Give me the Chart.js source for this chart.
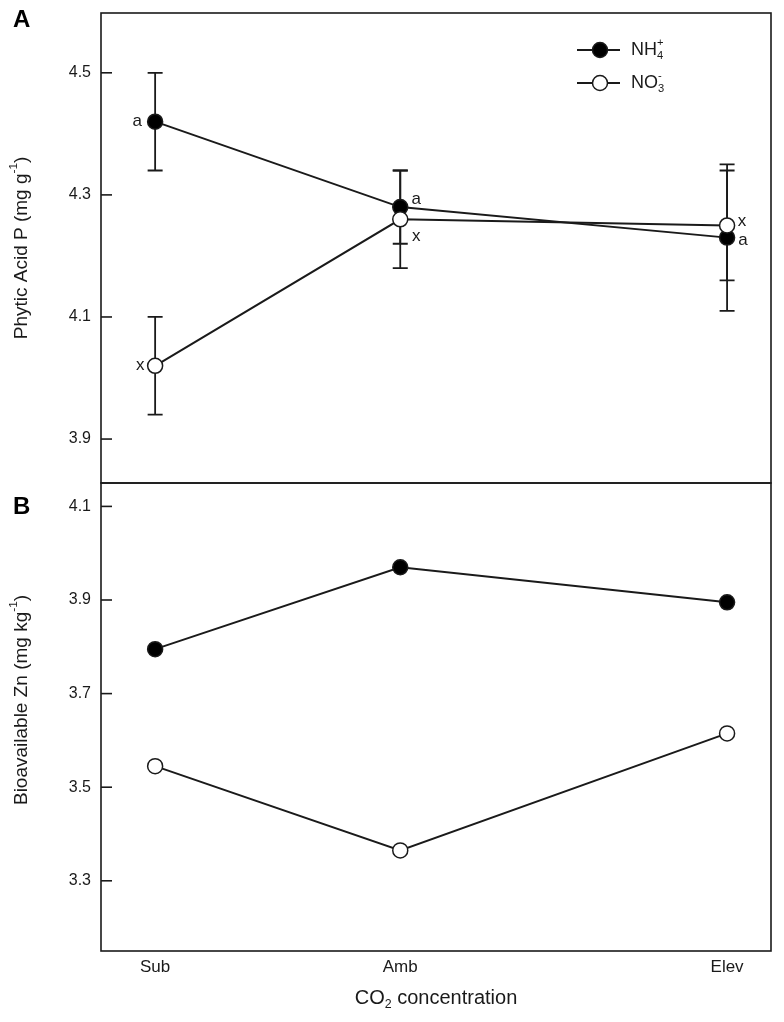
<!DOCTYPE html>
<html>
<head>
<meta charset="utf-8">
<script src="https://cdn.jsdelivr.net/npm/chart.js@4.4.1/dist/chart.umd.min.js"></script>
<style>
  body { margin: 0; background: #fff; }
  #wrap { position: relative; width: 784px; height: 1022px; }
  canvas { position: absolute; left: 0; }
  #chartA { top: 0; }
  #chartB { top: 471px; }
</style>
</head>
<body>
<div id="wrap">
  <canvas id="chartA" width="784" height="495"></canvas>
  <canvas id="chartB" width="784" height="551"></canvas>
</div>
<script>
// data
const categories = ['Sub', 'Amb', 'Elev'];
const co2Levels = [270, 390, 550];   // uneven spacing of the x positions

const phyticNH4 = [4.42, 4.28, 4.23];
const phyticNH4Err = [0.08, 0.06, 0.12];
const phyticNO3 = [4.02, 4.26, 4.25];
const phyticNO3Err = [0.08, 0.08, 0.09];
const phyticNH4Letters = ['a', 'a', 'a'];
const phyticNO3Letters = ['x', 'x', 'x'];

const zincNH4 = [3.795, 3.97, 3.895];
const zincNO3 = [3.545, 3.365, 3.615];

const ticksA = [3.9, 4.1, 4.3, 4.5];
const ticksB = [3.3, 3.5, 3.7, 3.9, 4.1];

const B_TOP = 471;  // page offset of the lower canvas
const INK = '#1a1a1a';
const SANS = '"Liberation Sans", Arial, sans-serif';
const NARROW = '"Liberation Sans Narrow", "Arial Narrow", "Liberation Sans", sans-serif';

function pts(ys) {
  return co2Levels.map((x, i) => ({ x: x, y: ys[i] }));
}

function seriesStyle(filled) {
  return {
    borderColor: INK,
    borderWidth: 2,
    pointRadius: 7.5,
    pointBorderWidth: 1.5,
    pointBorderColor: INK,
    pointBackgroundColor: filled ? '#000' : '#fff',
    tension: 0,
    fill: false
  };
}

// text with sub/superscripts: parts = [{t, sub, sup, stack}]
function richWidth(ctx, parts, size, family) {
  let w = 0, last = 0;
  parts.forEach(p => {
    const s = (p.sub || p.sup) ? size * 0.62 : size;
    ctx.font = s + 'px ' + family;
    const pw = ctx.measureText(p.t).width;
    if (p.stack) { w += Math.max(0, pw - last); last = Math.max(last, pw); }
    else { w += pw; last = pw; }
  });
  return w;
}

function drawRich(ctx, parts, x, y, size, family, align) {
  let cx = align === 'center' ? x - richWidth(ctx, parts, size, family) / 2 : x;
  let prevX = cx;
  ctx.textBaseline = 'middle';
  ctx.textAlign = 'left';
  parts.forEach(p => {
    const small = p.sub || p.sup;
    const s = small ? size * 0.62 : size;
    ctx.font = s + 'px ' + family;
    const dy = p.sub ? size * 0.32 : (p.sup ? -size * 0.42 : 0);
    const px = p.stack ? prevX : cx;
    ctx.fillText(p.t, px, y + dy);
    const w = ctx.measureText(p.t).width;
    if (p.stack) { cx = Math.max(cx, px + w); }
    else { prevX = cx; cx += w; }
  });
}

const framePlugin = {
  id: 'frame',
  afterDraw(chart, args, opts) {
    const ctx = chart.ctx, a = chart.chartArea;
    const y = chart.scales.y;
    ctx.save();
    ctx.strokeStyle = INK;
    ctx.lineWidth = 1.6;
    ctx.strokeRect(a.left, a.top, a.right - a.left, a.bottom - a.top);
    // inward tick marks
    y.ticks.forEach(t => {
      const py = y.getPixelForValue(t.value);
      ctx.beginPath();
      ctx.moveTo(a.left, py);
      ctx.lineTo(a.left + 11, py);
      ctx.stroke();
    });
    // panel letter
    ctx.fillStyle = '#000';
    ctx.font = 'bold 24px ' + SANS;
    ctx.textAlign = 'left';
    ctx.textBaseline = 'middle';
    ctx.fillText(opts.letter, 13, opts.letterY);
    // rotated y title
    ctx.fillStyle = INK;
    ctx.translate(22, opts.titleY);
    ctx.rotate(-Math.PI / 2);
    drawRich(ctx, opts.title, 0, 0, 19, SANS, 'center');
    ctx.restore();
  }
};

const errorBarPlugin = {
  id: 'errorBars',
  beforeDatasetsDraw(chart) {
    const ctx = chart.ctx, xs = chart.scales.x, ys = chart.scales.y;
    const sets = [[phyticNH4, phyticNH4Err], [phyticNO3, phyticNO3Err]];
    ctx.save();
    ctx.strokeStyle = INK;
    ctx.lineWidth = 1.8;
    sets.forEach(([vals, errs]) => {
      vals.forEach((v, i) => {
        const px = xs.getPixelForValue(co2Levels[i]);
        const hi = ys.getPixelForValue(v + errs[i]);
        const lo = ys.getPixelForValue(v - errs[i]);
        ctx.beginPath();
        ctx.moveTo(px, hi); ctx.lineTo(px, lo);
        ctx.moveTo(px - 7.5, hi); ctx.lineTo(px + 7.5, hi);
        ctx.moveTo(px - 7.5, lo); ctx.lineTo(px + 7.5, lo);
        ctx.stroke();
      });
    });
    ctx.restore();
  },
  afterDatasetsDraw(chart) {
    const ctx = chart.ctx, xs = chart.scales.x, ys = chart.scales.y;
    // letter offsets next to each mean (px)
    const offNH4 = [[-18, 0], [16, -8], [16, 3]];
    const offNO3 = [[-15, 0], [16, 17], [15, -4]];
    ctx.save();
    ctx.fillStyle = INK;
    ctx.font = '17px ' + SANS;
    ctx.textAlign = 'center';
    ctx.textBaseline = 'middle';
    phyticNH4.forEach((v, i) => {
      ctx.fillText(phyticNH4Letters[i], xs.getPixelForValue(co2Levels[i]) + offNH4[i][0], ys.getPixelForValue(v) + offNH4[i][1]);
    });
    phyticNO3.forEach((v, i) => {
      ctx.fillText(phyticNO3Letters[i], xs.getPixelForValue(co2Levels[i]) + offNO3[i][0], ys.getPixelForValue(v) + offNO3[i][1]);
    });
    // legend
    const rows = [
      { y: 50, fill: '#000', parts: [{ t: 'NH' }, { t: '4', sub: true }, { t: '+', sup: true, stack: true }] },
      { y: 83, fill: '#fff', parts: [{ t: 'NO' }, { t: '3', sub: true }, { t: '-', sup: true, stack: true }] }
    ];
    rows.forEach(r => {
      ctx.strokeStyle = INK;
      ctx.lineWidth = 2;
      ctx.beginPath();
      ctx.moveTo(577, r.y); ctx.lineTo(620, r.y);
      ctx.stroke();
      ctx.beginPath();
      ctx.arc(600, r.y, 7.5, 0, Math.PI * 2);
      ctx.fillStyle = r.fill;
      ctx.fill();
      ctx.lineWidth = 1.5;
      ctx.stroke();
      ctx.fillStyle = INK;
      drawRich(ctx, r.parts, 631, r.y, 18, SANS, 'left');
    });
    ctx.restore();
  }
};

const xTitlePlugin = {
  id: 'xTitle',
  afterDraw(chart) {
    const ctx = chart.ctx, a = chart.chartArea;
    ctx.save();
    ctx.fillStyle = INK;
    drawRich(ctx, [{ t: 'CO' }, { t: '2', sub: true }, { t: ' concentration' }],
      (a.left + a.right) / 2, 998 - B_TOP, 20, NARROW, 'center');
    ctx.restore();
  }
};

function noPad(s) {
  s.paddingTop = 0; s.paddingBottom = 0;
  s.paddingLeft = 0; s.paddingRight = 0;
}

function yScale(min, max, ticks) {
  return {
    min: min,
    max: max,
    afterFit: s => { s.width = 101; noPad(s); },
    afterBuildTicks: s => { s.ticks = ticks.map(v => ({ value: v })); },
    grid: { display: false, drawTicks: false },
    border: { display: false },
    ticks: {
      padding: 10,
      color: INK,
      font: { family: SANS, size: 16 },
      callback: v => Number(v).toFixed(1)
    }
  };
}

new Chart(document.getElementById('chartA'), {
  type: 'line',
  data: {
    datasets: [
      Object.assign({ label: 'NO3-', data: pts(phyticNO3), order: 0 }, seriesStyle(false)),
      Object.assign({ label: 'NH4+', data: pts(phyticNH4), order: 1 }, seriesStyle(true))
    ]
  },
  options: {
    responsive: false,
    animation: false,
    layout: { autoPadding: false, padding: { top: 13, right: 13, left: 0, bottom: 12 } },
    plugins: {
      legend: { display: false },
      tooltip: { enabled: false },
      frame: {
        letter: 'A', letterY: 20, titleY: 248,
        title: [{ t: 'Phytic Acid P (mg g' }, { t: '-1', sup: true }, { t: ')' }]
      }
    },
    scales: {
      x: { type: 'linear', min: 243.5, max: 571.5, display: false },
      y: yScale(3.828, 4.598, ticksA)
    }
  },
  plugins: [errorBarPlugin, framePlugin]
});

new Chart(document.getElementById('chartB'), {
  type: 'line',
  data: {
    datasets: [
      Object.assign({ label: 'NO3-', data: pts(zincNO3), order: 0 }, seriesStyle(false)),
      Object.assign({ label: 'NH4+', data: pts(zincNH4), order: 1 }, seriesStyle(true))
    ]
  },
  options: {
    responsive: false,
    animation: false,
    layout: { autoPadding: false, padding: { top: 12, right: 13, left: 0, bottom: 0 } },
    plugins: {
      legend: { display: false },
      tooltip: { enabled: false },
      frame: {
        letter: 'B', letterY: 507 - B_TOP, titleY: 700 - B_TOP,
        title: [{ t: 'Bioavailable Zn (mg kg' }, { t: '-1', sup: true }, { t: ')' }]
      }
    },
    scales: {
      x: {
        type: 'linear',
        min: 243.5,
        max: 571.5,
        afterFit: s => { s.height = 71; noPad(s); },
        afterBuildTicks: s => { s.ticks = co2Levels.map(v => ({ value: v })); },
        grid: { display: false, drawTicks: false },
        border: { display: false },
        ticks: {
          padding: 6,
          autoSkip: false,
          maxRotation: 0,
          color: INK,
          font: { family: NARROW, size: 17 },
          callback: v => categories[co2Levels.indexOf(v)]
        }
      },
      y: yScale(3.15, 4.15, ticksB)
    }
  },
  plugins: [framePlugin, xTitlePlugin]
});
</script>
</body>
</html>
